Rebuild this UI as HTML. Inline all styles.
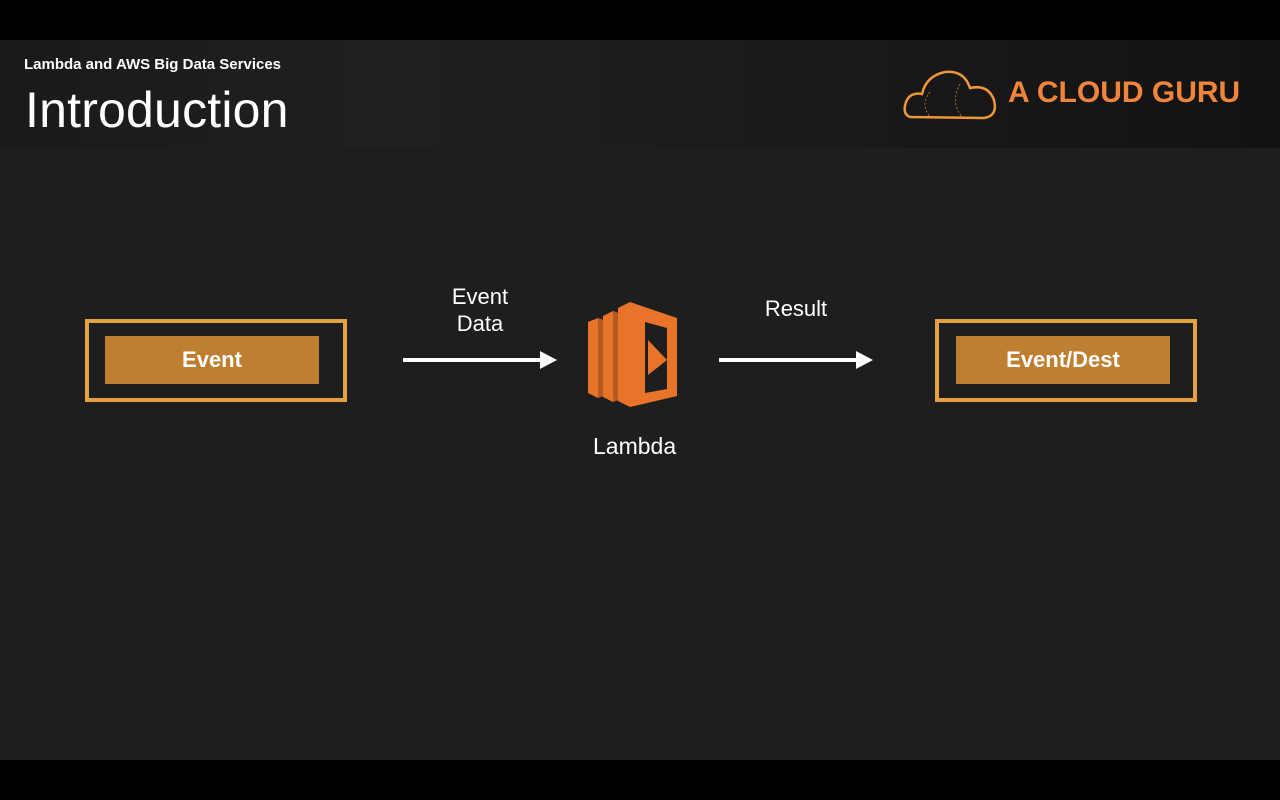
<!DOCTYPE html>
<html><head><style>
body{margin:0;width:1280px;height:800px;background:#000;position:relative;overflow:hidden;font-family:"Liberation Sans",sans-serif}
.hdr{position:absolute;left:0;top:40px;width:1280px;height:108px;background:linear-gradient(90deg,#1a1a1c 0%,#202022 30%,#1c1c1c 55%,#121212 100%)}
.main{position:absolute;left:0;top:148px;width:1280px;height:612px;background:#1e1e1e}
.t{position:absolute;color:#fff}
.ob{position:absolute;border:4px solid #e3a23f;box-sizing:border-box}
.ib{position:absolute;background:#bf7f31;color:#fff;font-weight:bold;font-size:22px;text-align:center;line-height:48px}
</style></head><body>
<div class="hdr"></div>
<div class="main"></div>
<div class="t" style="left:24px;top:56px;font-size:15px;font-weight:bold">Lambda and AWS Big Data Services</div>
<div class="t" style="left:25px;top:81px;font-size:50px;letter-spacing:0.2px">Introduction</div>
<svg style="position:absolute;left:900px;top:64px" width="100" height="60">
<path d="M10 53 Q2 50 6 38 Q10 28 22 30 Q26 12 45 8 Q64 6 70 24 Q88 20 94 36 Q98 52 84 54 Z" fill="none" stroke="#f0963a" stroke-width="2.5"/>
<path d="M30 28 Q20 40 30 53 M60 20 Q50 38 62 53" fill="none" stroke="#b06a2a" stroke-dasharray="2 2"/>
</svg>
<div class="t" style="left:1008px;top:76px;font-size:30px;font-weight:bold;color:#f0843a">A CLOUD GURU</div>

<div class="ob" style="left:85px;top:319px;width:262px;height:83px"></div>
<div class="ib" style="left:105px;top:336px;width:214px;height:48px">Event</div>
<div class="ob" style="left:935px;top:319px;width:262px;height:83px"></div>
<div class="ib" style="left:956px;top:336px;width:214px;height:48px">Event/Dest</div>

<div class="t" style="left:440px;top:283px;width:80px;text-align:center;font-size:22px;line-height:27px">Event<br>Data</div>
<div class="t" style="left:756px;top:296px;width:80px;text-align:center;font-size:22px">Result</div>
<div class="t" style="left:593px;top:433px;font-size:23px">Lambda</div>

<svg style="position:absolute;left:0;top:0" width="1280" height="800">
<line x1="403" y1="360" x2="542" y2="360" stroke="#fff" stroke-width="4"/>
<polygon points="540,351 557,360 540,369" fill="#fff"/>
<line x1="719" y1="360" x2="858" y2="360" stroke="#fff" stroke-width="4"/>
<polygon points="856,351 873,360 856,369" fill="#fff"/>
<g>
<polygon points="588,322 598,318 598,398 588,393" fill="#e8742a"/>
<polygon points="598,318 604,320 604,396 598,398" fill="#b45a1e"/>
<polygon points="603,316 613,311 613,402 603,397" fill="#e8742a"/>
<polygon points="613,311 619,313 619,400 613,402" fill="#b45a1e"/>
<polygon points="618,308 630,302 630,407 618,401" fill="#e8742a"/>
<polygon points="630,302 677,318 677,396 630,407" fill="#e8742a"/>
<polygon points="645,322 667,328 667,389 645,393" fill="#1e1e1e"/>
<polygon points="648,340 648,375 667,360" fill="#e8742a"/>
</g>
</svg>
</body></html>
